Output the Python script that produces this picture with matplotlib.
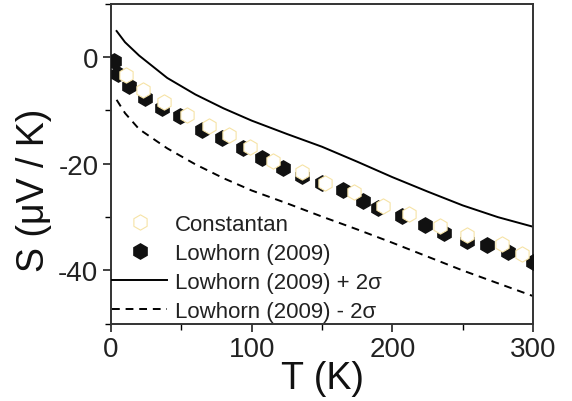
import matplotlib
matplotlib.use("Agg")
import matplotlib.pyplot as plt
from matplotlib.ticker import MultipleLocator

plt.rcParams['font.family'] = ['Liberation Sans', 'DejaVu Sans']
plt.rcParams['axes.unicode_minus'] = False

# Lowhorn (2009) reference curve +/- 2 sigma
T_line = [4, 10, 20, 40, 60, 80, 100, 125, 150, 175, 200, 225, 250, 275, 300]
S_plus = [4.9, 2.8, 0.3, -3.9, -7.0, -9.6, -11.9, -14.4, -16.8, -19.6, -22.5,
          -25.2, -27.8, -30.0, -31.8]
S_minus = [-8.0, -10.5, -13.5, -17.1, -20.1, -22.7, -25.0, -27.4, -29.9, -32.3,
           -34.8, -37.4, -40.0, -42.4, -44.8]

# Lowhorn (2009) data points
T_low = [2, 5, 13, 24, 36, 49, 65, 79, 94, 107, 122, 136, 150, 165, 179, 190,
         207, 223, 237, 253, 267, 282, 300]
S_low = [-0.8, -3.2, -5.4, -7.7, -9.5, -11.0, -13.6, -15.1, -17.0, -18.9, -20.7,
         -22.2, -23.6, -25.0, -26.9, -28.2, -29.7, -31.4, -32.9, -34.4, -35.3,
         -36.6, -38.5]

# Constantan measurement
T_con = [11, 23, 38, 54, 70, 84, 99, 115, 136, 152, 173, 193, 212, 234, 253,
         278, 292]
S_con = [-3.4, -6.2, -8.5, -10.8, -13.0, -14.6, -16.9, -19.4, -21.6, -23.6,
         -25.3, -27.9, -29.5, -31.7, -33.4, -35.1, -36.9]

fig = plt.figure(figsize=(5.72, 4.02), dpi=100)
ax = fig.add_axes([0.194, 0.192, 0.738, 0.796])

ax.plot(T_line, S_plus, color='black', lw=1.4, label='Lowhorn (2009) + 2σ', zorder=2)
ax.plot(T_line, S_minus, color='black', lw=1.4, ls=(0, (4, 3)),
        label='Lowhorn (2009) - 2σ', zorder=2)
ax.plot(T_low, S_low, ls='none', marker='h', ms=11, color='#111111',
        mec='#111111', label='Lowhorn (2009)', zorder=3)
ax.plot(T_con, S_con, ls='none', marker='h', ms=11, mfc='white',
        mec='#f6e3a6', mew=0.8, label='Constantan', zorder=4)

ax.set_xlim(0, 300)
ax.set_ylim(-50, 10)
ax.xaxis.set_major_locator(MultipleLocator(100))
ax.xaxis.set_minor_locator(MultipleLocator(50))
ax.yaxis.set_major_locator(MultipleLocator(20))
ax.yaxis.set_minor_locator(MultipleLocator(10))
ax.tick_params(which='major', direction='out', length=6, width=1.2,
               labelsize=20, pad=3, colors='#222222')
ax.tick_params(which='minor', direction='out', length=4, width=1.0)
for sp in ax.spines.values():
    sp.set_linewidth(1.4)
    sp.set_color('#333333')

ax.set_xlabel('T (K)', fontsize=27, labelpad=-2, color='#111111')
ax.set_ylabel('S (μV / K)', fontsize=27, color='#111111')
ax.yaxis.set_label_coords(-0.14, 0.42)

handles, labels = ax.get_legend_handles_labels()
order = [3, 2, 0, 1]
leg = ax.legend([handles[i] for i in order], [labels[i] for i in order],
                loc='lower left', bbox_to_anchor=(-0.035, -0.043), frameon=False,
                fontsize=16, handlelength=2.5, handletextpad=0.35,
                labelspacing=0.36, borderpad=0.2)
for t in leg.get_texts():
    t.set_color('#222222')

fig.savefig('out.png', dpi=100)
